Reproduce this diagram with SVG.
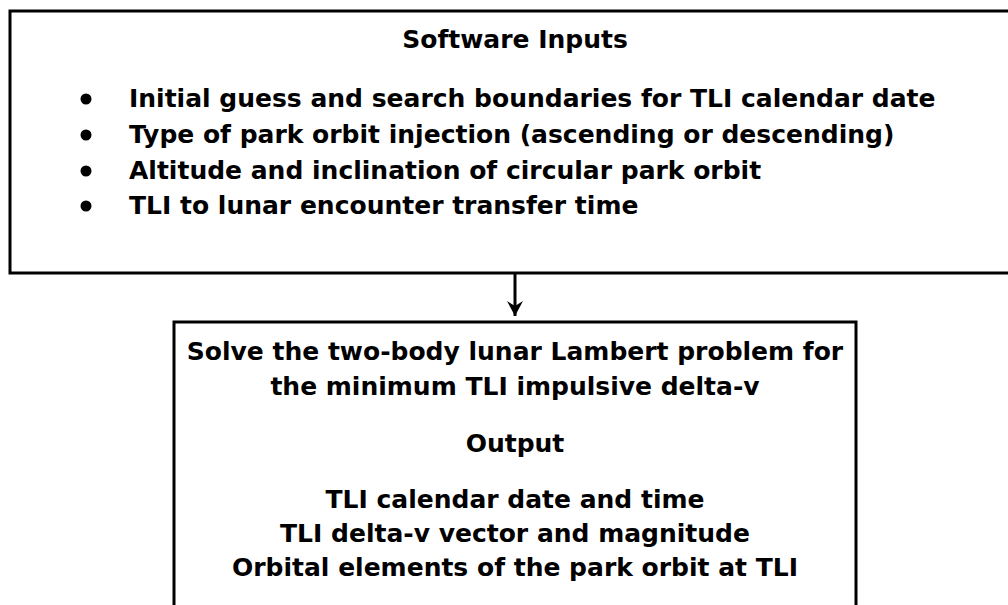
<svg xmlns="http://www.w3.org/2000/svg" width="1008" height="605" viewBox="0 0 1008 605">
<style>
.box{fill:#fff;stroke:#000;stroke-width:3}
.t{font-family:"DejaVu Sans","Liberation Sans",sans-serif;font-weight:bold;font-size:25px;fill:#000}
.c{text-anchor:middle}
.conn{stroke:#000;stroke-width:3;fill:none}
</style>
<defs>
<marker id="ah" markerWidth="16" markerHeight="16" refX="15" refY="8" orient="auto" markerUnits="userSpaceOnUse" viewBox="0 0 16 16">
<path d="M0,0 L15,8 L0,16 L5,8 Z" fill="#000"/>
</marker>
</defs>
<g id="inputs">
<rect class="box" x="10" y="11" width="1010" height="262"/>
<text class="t c" x="515" y="48">Software Inputs</text>
<circle cx="86" cy="99" r="5.5"/>
<circle cx="86" cy="135" r="5.5"/>
<circle cx="86" cy="171" r="5.5"/>
<circle cx="86" cy="206" r="5.5"/>
<text class="t" x="129" y="107">Initial guess and search boundaries for TLI calendar date</text>
<text class="t" x="129" y="143">Type of park orbit injection (ascending or descending)</text>
<text class="t" x="129" y="179">Altitude and inclination of circular park orbit</text>
<text class="t" x="129" y="214">TLI to lunar encounter transfer time</text>
</g>
<g id="solver">
<rect class="box" x="174" y="322" width="682" height="320"/>
<text class="t c" x="515" y="360">Solve the two-body lunar Lambert problem for</text>
<text class="t c" x="515" y="395">the minimum TLI impulsive delta-v</text>
<text class="t c" x="515" y="452">Output</text>
<text class="t c" x="515" y="508">TLI calendar date and time</text>
<text class="t c" x="515" y="542">TLI delta-v vector and magnitude</text>
<text class="t c" x="515" y="576">Orbital elements of the park orbit at TLI</text>
</g>
<g id="connectors">
<line class="conn" x1="515" y1="273" x2="515" y2="316" marker-end="url(#ah)"/>
</g>
</svg>
